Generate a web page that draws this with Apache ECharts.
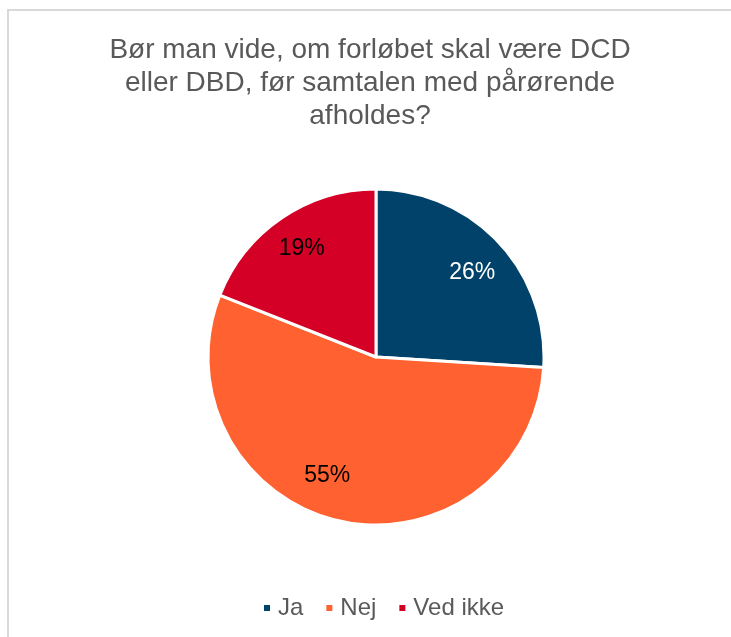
<!DOCTYPE html>
<html>
<head>
<meta charset="utf-8">
<script src="https://cdn.jsdelivr.net/npm/echarts@6/dist/echarts.min.js"></script>
<style>
  html, body { margin: 0; padding: 0; background: #fff; }
  #chart { width: 731px; height: 637px; }
</style>
</head>
<body>
<div id="chart"></div>
<script>
const categories = ['Ja', 'Nej', 'Ved ikke']
const values = [26, 55, 19]
const colors = ['#00426A', '#FF6130', '#D50026']
const labelColors = ['#ffffff', '#000000', '#000000']
// excel nudges the labels a little off the slice middle
const labelOffsets = [[0, 6], [-20, -10], [0, 1]]

const chart = echarts.init(document.getElementById('chart'))

const pieData = categories.map((name, i) => ({
  name: name,
  value: values[i],
  itemStyle: { color: colors[i] }
}))

// same slices again, transparent, only to hold labels further out
const labelData = categories.map((name, i) => ({
  name: name,
  value: values[i],
  itemStyle: { color: 'rgba(0,0,0,0)', borderWidth: 0 },
  label: { color: labelColors[i], offset: labelOffsets[i] }
}))

const option = {
  animation: false,
  textStyle: { fontFamily: 'Liberation Sans, Arial, sans-serif' },
  graphic: [{
    type: 'rect',
    shape: { x: 8, y: 10, width: 800, height: 700 },
    style: { fill: 'none', stroke: '#d9d9d9', lineWidth: 2 },
    silent: true
  }],
  title: {
    text: 'Bør man vide, om forløbet skal være DCD\neller DBD, før samtalen med pårørende\nafholdes?',
    left: 365,
    top: 29,
    textAlign: 'center',
    textStyle: {
      fontFamily: 'Liberation Sans, Arial, sans-serif',
      fontSize: 28,
      fontWeight: 'normal',
      color: '#595959',
      lineHeight: 33
    }
  },
  legend: {
    data: categories,
    left: 257,
    top: 591,
    icon: 'rect',
    itemWidth: 8,
    itemHeight: 8,
    itemGap: 21,
    textStyle: {
      fontFamily: 'Liberation Sans, Arial, sans-serif',
      fontSize: 24,
      color: '#595959',
      padding: [0, 0, 0, 2]
    }
  },
  series: [{
    type: 'pie',
    center: [376, 357],
    radius: [0, 168],
    startAngle: 90,
    clockwise: true,
    data: pieData,
    itemStyle: { borderColor: '#ffffff', borderWidth: 3 },
    label: { show: false },
    labelLine: { show: false },
    emphasis: { disabled: true }
  }, {
    type: 'pie',
    center: [376, 357],
    radius: [90, 168],
    startAngle: 90,
    clockwise: true,
    silent: true,
    data: labelData,
    label: {
      show: true,
      position: 'inside',
      formatter: '{c}%',
      fontFamily: 'Liberation Sans, Arial, sans-serif',
      fontSize: 23
    },
    labelLine: { show: false },
    emphasis: { disabled: true }
  }]
}

chart.setOption(option)
</script>
</body>
</html>
